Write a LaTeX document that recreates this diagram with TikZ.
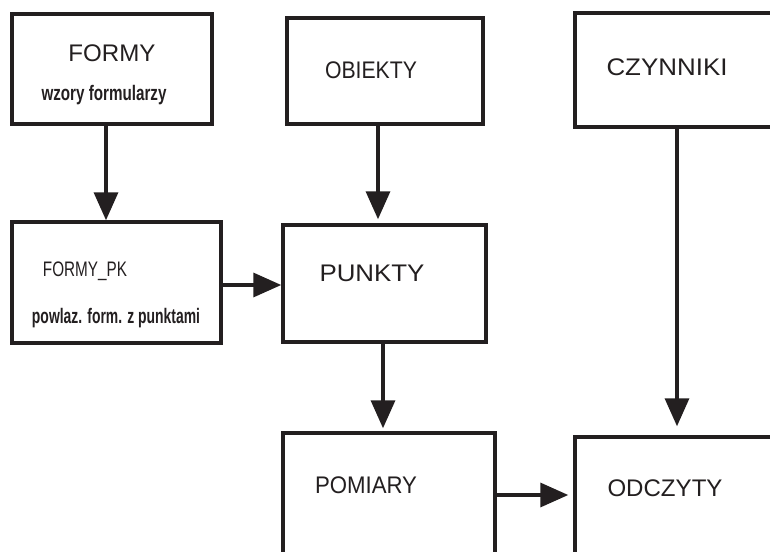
\documentclass[tikz,border=0pt]{standalone}
\usepackage{graphicx}
\usepackage{fontspec}
\setmainfont{Liberation Sans}
\usepackage{xcolor}
\usetikzlibrary{arrows.meta}
\definecolor{ink}{HTML}{231F20}
\tikzset{
  every node/.style = {font = \fontsize{24}{28}\selectfont, text = ink}
}
\tikzset{
  box/.style = {draw = ink, line width = 3.5pt, inner sep = 0pt},
  flow/.style = {draw = ink, line width = 3.5pt,
    -{Triangle[length=28pt,width=24pt]}}
}
\newcommand{\narrowtext}[2]{\resizebox{#1}{\height}{#2}}

\begin{document}
\begin{tikzpicture}[x=1pt,y=-1pt]
\useasboundingbox (0,0) rectangle (770,551);
\clip (0,0) rectangle (770,551);
\fill[white] (0,0) rectangle (770,551);

% The boxes
\node[box, minimum width=200pt, minimum height=110pt] (formy) at (112,69) {};
\node[box, minimum width=196pt, minimum height=106pt] (obiekty) at (385,71) {};
\node[box, minimum width=245pt, minimum height=114pt] (czynniki) at (697.5,70) {};
\node[box, minimum width=209pt, minimum height=121pt] (formypk) at (116.5,282.5) {};
\node[box, minimum width=203pt, minimum height=117pt] (punkty) at (384.5,283.5) {};
\node[box, minimum width=212pt, minimum height=167pt] (pomiary) at (389,516.5) {};
\node[box, minimum width=245pt, minimum height=163pt] (odczyty) at (697.5,518.5) {};

% Box labels
\node (formyname) at (112,53) {\narrowtext{87pt}{FORMY}};
\node (formytext) at (104,95) {\narrowtext{125pt}{\fontsize{21}{24}\selectfont\bfseries wzory formularzy}};
\node (obiektyname) at (371,70) {\narrowtext{92pt}{OBIEKTY}};
\node (czynnikiname) at (667,67) {\narrowtext{121pt}{CZYNNIKI}};
\node (formypkname) at (85,271) {\narrowtext{84pt}{\fontsize{21}{24}\selectfont FORMY\_PK}};
\node (formypktext) at (116,318) {\narrowtext{168pt}{\fontsize{21}{24}\selectfont\bfseries powlaz. form. z punktami}};
\node (punktyname) at (372,273) {\narrowtext{105pt}{PUNKTY}};
\node (pomiaryname) at (366,485) {\narrowtext{102pt}{POMIARY}};
\node (odczytyname) at (665,488) {\narrowtext{115pt}{ODCZYTY}};

% Connectors
\draw[flow] ([xshift=-6pt]formy.south) -- ([xshift=-6pt]formy.south |- formypk.north);
\draw[flow, shorten >=4pt] ([xshift=-7pt]obiekty.south) -- ([xshift=-7pt]obiekty.south |- punkty.north);
\draw[flow] ([yshift=-2.5pt]formypk.east) -- ([yshift=-2.5pt]formypk.east -| punkty.west);
\draw[flow, shorten >=3pt] ([xshift=-1.5pt]punkty.south) -- ([xshift=-1.5pt]punkty.south |- pomiary.north);
\draw[flow, shorten >=9pt] ([xshift=-20.5pt]czynniki.south) -- ([xshift=-20.5pt]czynniki.south |- odczyty.north);
\draw[flow, shorten >=5pt] ([yshift=21.5pt]pomiary.east) -- ([yshift=21.5pt]pomiary.east -| odczyty.west);
\end{tikzpicture}
\end{document}
